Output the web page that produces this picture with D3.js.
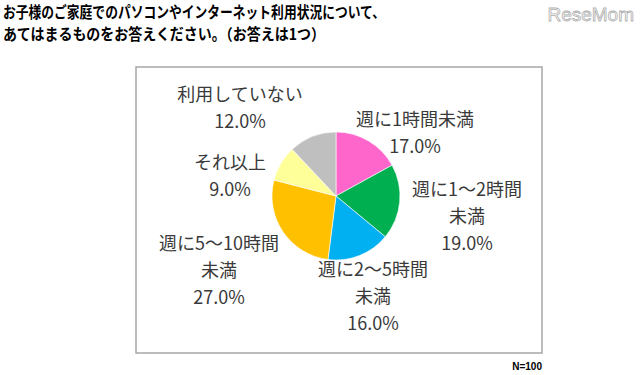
<!DOCTYPE html>
<html>
<head>
<meta charset="utf-8">
<script src="https://cdn.jsdelivr.net/npm/d3@7"></script>
<style>
  body { margin: 0; background: #fff; }
  svg text { font-family: "Noto Sans CJK JP", "Noto Sans", sans-serif; }
</style>
</head>
<body>
<svg id="chart" width="640" height="375"></svg>
<script>
const categories = ['週に1時間未満', '週に1〜2時間未満', '週に2〜5時間未満', '週に5〜10時間未満', 'それ以上', '利用していない'];
const values = [17.0, 19.0, 16.0, 27.0, 9.0, 12.0];
const colors = ['#FF66CC', '#00B050', '#00B0F0', '#FFC000', '#FFFF99', '#BFBFBF'];
// label lines as they are broken in the picture
const labelLines = [
    ['週に1時間未満'],
    ['週に1〜2時間', '未満'],
    ['週に2〜5時間', '未満'],
    ['週に5〜10時間', '未満'],
    ['それ以上'],
    ['利用していない']
];
const labelPos = [[415, 120], [467, 190], [373, 270], [219, 244], [230, 163], [240, 95]];
const titleLines = ['お子様のご家庭でのパソコンやインターネット利用状況について、', 'あてはまるものをお答えください。（お答えは1つ）'];

var svg = d3.select('#chart');

// titles
svg.selectAll('.title')
    .data(titleLines)
    .enter().append('text')
    .attr('class', 'title')
    .attr('x', 3)
    .attr('y', (d, i) => 18 + i * 22)
    .attr('textLength', (d, i) => i == 0 ? 382 : 322)
    .attr('lengthAdjust', 'spacingAndGlyphs')
    .style('font-size', '15.5px')
    .style('font-weight', 'bold')
    .style('fill', '#000')
    .text(d => d);

// logo
svg.append('text')
    .attr('x', 634).attr('y', 21)
    .attr('text-anchor', 'end')
    .style('font-family', 'Liberation Sans, sans-serif')
    .style('font-size', '19px')
    .style('fill', '#fff')
    .style('stroke', '#b0b0b0')
    .style('stroke-width', 0.8)
    .text('ReseMom');

// frame
svg.append('rect')
    .attr('x', 136).attr('y', 67)
    .attr('width', 406).attr('height', 286)
    .style('fill', 'none')
    .style('stroke', '#a6a6a6')
    .style('stroke-width', 1.5);

const cx = 336, cy = 196, r = 64;

const pie = d3.pie().sort(null).value(d => d)(values);
const arc = d3.arc().innerRadius(0).outerRadius(r);

const g = svg.append('g').attr('transform', `translate(${cx}, ${cy})`);
g.selectAll('path')
    .data(pie)
    .enter().append('path')
    .attr('d', arc)
    .style('fill', (d, i) => colors[i])
    .style('stroke', '#fff')
    .style('stroke-width', 0.6);

// labels
const lab = svg.selectAll('.lab')
    .data(categories)
    .enter().append('text')
    .attr('class', 'lab')
    .attr('text-anchor', 'middle')
    .style('font-size', '18px')
    .style('fill', '#3a3a3a');

lab.each(function(d, i) {
    var t = d3.select(this);
    var lines = labelLines[i].concat([values[i].toFixed(1) + '%']);
    lines.forEach(function(s, j) {
        t.append('tspan')
            .attr('x', labelPos[i][0])
            .attr('y', labelPos[i][1] + 6 + j * 27)
            .text(s);
    });
});

svg.append('text')
    .attr('x', 542).attr('y', 370)
    .attr('text-anchor', 'end')
    .style('font-family', 'Liberation Sans, sans-serif')
    .style('font-size', '10px')
    .style('font-weight', 'bold')
    .style('fill', '#000')
    .text('N=100');
</script>
</body>
</html>
